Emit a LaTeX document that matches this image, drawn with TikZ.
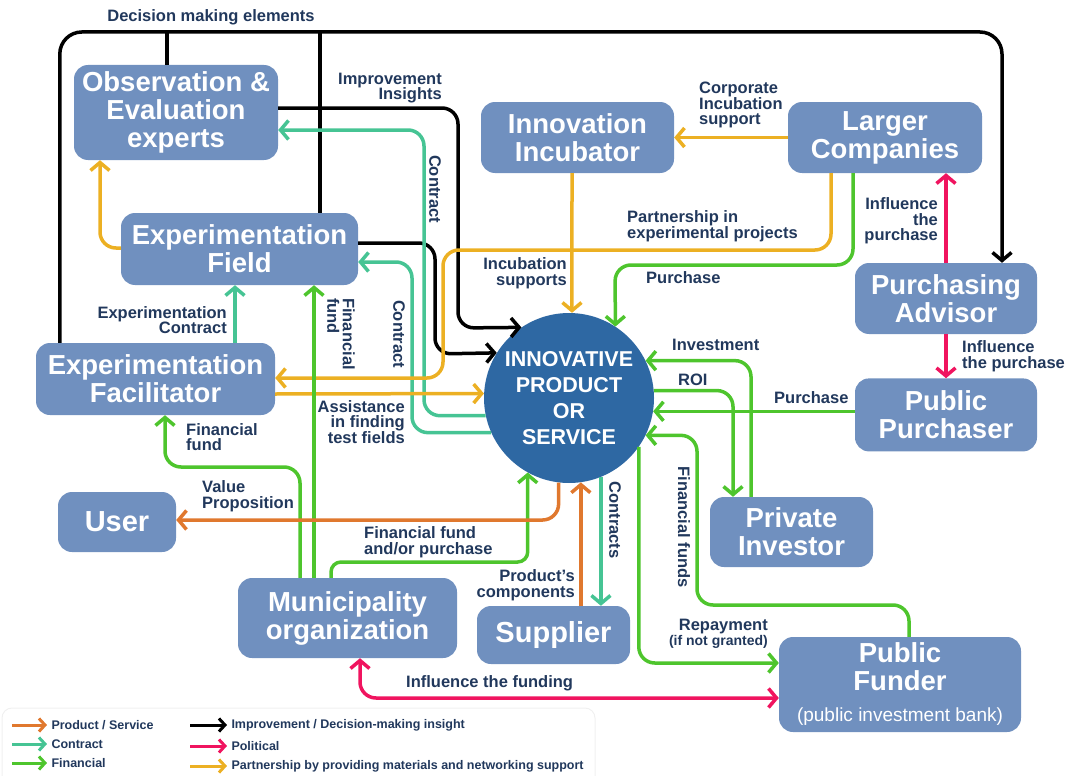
\documentclass[tikz,border=0pt]{standalone}
\usepackage{fontspec}
\setmainfont{Liberation Sans}
\usetikzlibrary{arrows.meta,positioning}

\definecolor{boxblue}{RGB}{112,144,191}
\definecolor{coreblue}{RGB}{46,104,163}
\definecolor{lblnavy}{RGB}{33,56,92}
\definecolor{prodorange}{RGB}{224,120,46}
\definecolor{contteal}{RGB}{70,196,148}
\definecolor{fingreen}{RGB}{78,197,45}
\definecolor{polpink}{RGB}{240,20,95}
\definecolor{partyellow}{RGB}{236,176,35}

\newcommand\boxfont{\fontsize{27.5pt}{28pt}\selectfont\bfseries}
\newcommand\bigboxfont{\fontsize{29pt}{30pt}\selectfont\bfseries}
\newcommand\corefont{\fontsize{21.5pt}{26pt}\selectfont\bfseries}
\newcommand\lblfont{\fontsize{16.5pt}{15.5pt}\selectfont\bfseries}
\newcommand\keyfont{\fontsize{12.5pt}{13pt}\selectfont\bfseries}

\begin{document}
\begin{tikzpicture}[x=1pt, y=-1pt, >={Straight Barb[length=8pt,width=19pt]},
  actor/.style={rectangle, rounded corners=14pt, fill=boxblue, text=white, font=\boxfont, align=center, inner sep=0pt},
  core/.style={circle, fill=coreblue, text=white, font=\corefont, align=center, inner sep=0pt, minimum size=170pt},
  lbl/.style={font=\lblfont, text=lblnavy, inner sep=0pt},
  key/.style={font=\keyfont, text=lblnavy, inner sep=0pt, anchor=west},
  link/.style={->, line width=3.5pt, rounded corners=16pt},
  keyarrow/.style={-{Straight Barb[length=6pt,width=13pt]}, line width=3pt},
  product/.style={link, draw=prodorange},
  contract/.style={link, draw=contteal},
  finance/.style={link, draw=fingreen},
  insight/.style={link, draw=black},
  politic/.style={link, draw=polpink},
  partner/.style={link, draw=partyellow}]
  \useasboundingbox (0,0) rectangle (1066,776);

  \node[actor, minimum width=204pt, minimum height=95pt] (obs) at (176,112.5) {Observation \&\\Evaluation\\experts};
  \node[actor, minimum width=237pt, minimum height=72pt] (field) at (239.5,249) {Experimentation\\Field};
  \node[actor, minimum width=239pt, minimum height=72pt] (facil) at (155.5,379) {Experimentation\\Facilitator};
  \node[actor, minimum width=118pt, minimum height=60pt, font=\bigboxfont] (user) at (117,522) {User};
  \node[actor, minimum width=219pt, minimum height=80pt] (muni) at (347.5,618) {Municipality\\organization};
  \node[actor, minimum width=153pt, minimum height=58pt, font=\bigboxfont] (supplier) at (553.5,635) {Supplier};
  \node[actor, minimum width=193pt, minimum height=71pt] (incub) at (577.5,137.5) {Innovation\\Incubator};
  \node[actor, minimum width=194pt, minimum height=71pt] (larger) at (885,137.5) {Larger\\Companies};
  \node[actor, minimum width=182pt, minimum height=71pt] (advisor) at (946,298.5) {Purchasing\\Advisor};
  \node[actor, minimum width=182pt, minimum height=73pt, below=44pt of advisor] (purchaser) {Public\\Purchaser};
  \node[actor, minimum width=163pt, minimum height=70pt] (investor) at (791.5,532) {Private\\Investor};
  \node[actor, minimum width=242pt, minimum height=95pt] (funder) at (900,684.5) {Public\\Funder\\[3pt]{\fontsize{19pt}{20pt}\selectfont\mdseries (public investment bank)}};
  \node[core] (prod) at (569,398) {INNOVATIVE\\PRODUCT\\OR\\SERVICE};

  \draw[insight, rounded corners=22pt] ([xshift=24pt]facil.north west) |- (1002,32) -- ([xshift=56pt]advisor.north);
  \draw[insight, -] (obs.north -| 167,0) -- (167,32);
  \draw[insight, -] (field.north -| 320,0) -- (320,32);
  \draw[insight] (obs.east |- 0,108) -| (458,328) -- (prod.124.6);
  \draw[insight] (field.east |- 0,243) -| (435,354) -- (prod.148.8);

  \draw[contract] (prod.192.9) -| (424,130) -- (obs.east |- 0,130);
  \draw[contract] (prod.204.3) -| (412,262) -- (field.east |- 0,262);
  \draw[contract] (facil.north -| 235,0) -- (field.south -| 235,0);
  \draw[contract] (prod.292.8) -- (prod.292.8 |- supplier.north);

  \draw[partner] (larger.south -| 831,0) |- (443,250) |- (facil.east |- 0,378);
  \draw[partner] (facil.east |- 0,394) -- (prod.177.3);
  \draw[partner] (incub.south -| 572,0) -- (prod.88);
  \draw[partner] (larger.west) -- (incub.east);
  \draw[partner] (field.west |- 0,248) -| (obs.south -| 100,0);

  \draw[finance] (larger.south -| 853,0) |- (615,265) -- (prod.57.2);
  \draw[finance] (purchaser.west |- prod.351.2) -- (prod.351.2);
  \draw[finance] (investor.north -| 751,0) |- (prod.26.6);
  \draw[finance] (prod.5.4) -| (investor.north -| 733,0);
  \draw[finance] (funder.north -| 909,0) |- (697,605) |- (prod.334.2);
  \draw[finance] (prod.325.4) |- (funder.west |- 0,663);
  \draw[finance, rounded corners=10pt] (muni.north -| 331,0) |- (prod.241.2 |- 0,562) -- (prod.241.2);
  \draw[finance] (muni.north -| 300,0) |- (165,467) -- (facil.south -| 165,0);
  \draw[finance] (muni.north -| 314,0) -- (field.south -| 314,0);

  \draw[product] (supplier.north -| prod.278.1) -- (prod.278.1);
  \draw[product] (prod.263.2) |- (user.east |- 0,520);

  \draw[politic] (advisor.north) -- (advisor.north |- larger.south);
  \draw[politic] (advisor.south) -- (purchaser.north);
  \draw[politic, <->] (muni.south -| 360,0) |- (funder.west |- 0,698);

  \node[lbl] (ldecision) at (211,17) {Decision making elements};
  \node[lbl, anchor=east, align=right] (limprove) at (442,88) {Improvement\\Insights};
  \node[lbl, rotate=-90] (lcontobs) at (435,189) {Contract};
  \node[lbl, anchor=west, align=left] (lcorporate) at (699,105) {Corporate\\Incubation\\support};
  \node[lbl, anchor=east, align=right] (lincub) at (567,273) {Incubation\\supports};
  \node[lbl, anchor=west, align=left] (lpartner) at (627,226) {Partnership in\\experimental projects};
  \node[lbl, anchor=west] (lpurchlarge) at (646,278) {Purchase};
  \node[lbl, anchor=east, align=right] (linflarge) at (938,221) {Influence\\the\\purchase};
  \node[lbl, anchor=west, align=left] (linfpub) at (962,356) {Influence\\the purchase};
  \node[lbl, anchor=west] (linvest) at (672,345) {Investment};
  \node[lbl, anchor=west] (lroi) at (678,380) {ROI};
  \node[lbl, anchor=west] (lpurchpub) at (774,398) {Purchase};
  \node[lbl, rotate=-90] (lfunds) at (684,527) {Financial funds};
  \node[lbl, anchor=east, align=right] (lrepay) at (768,634) {Repayment\\[-1pt]{\fontsize{14pt}{14pt}\selectfont (if not granted)}};
  \node[lbl, rotate=-90] (lcontsup) at (615,520) {Contracts};
  \node[lbl, anchor=east, align=right] (lcomp) at (575,585) {Product’s\\components};
  \node[lbl, anchor=west, align=left] (lfundmuni) at (364,542) {Financial fund\\and/or purchase};
  \node[lbl, anchor=west] (linffund) at (406,683) {Influence the funding};
  \node[lbl, anchor=west, align=left] (lvalue) at (202,496) {Value\\Proposition};
  \node[lbl, anchor=west, align=left] (lfundfacil) at (186,437) {Financial\\fund};
  \node[lbl, anchor=east, align=right] (lassist) at (405,422) {Assistance\\in finding\\test fields};
  \node[lbl, anchor=east, align=right] (lexpcont) at (227,320) {Experimentation\\Contract};
  \node[lbl, rotate=-90, align=left] (lfundfield) at (341,334) {Financial\\fund};
  \node[lbl, rotate=-90] (lcontfield) at (399,334) {Contract};

  \draw[black!6, line width=1pt, rounded corners=10pt] (2,776) |- (595,708) -- (595,776);
  \foreach \c/\t [count=\i] in {prodorange/{Product / Service}, contteal/Contract, fingreen/Financial}
    \draw[keyarrow, draw=\c] (12,706+19*\i) -- (47,706+19*\i) node[key, xshift=3pt] (keya\i) {\t};
  \foreach \c/\t/\y [count=\i] in {black/{Improvement / Decision-making insight}/725, polpink/Political/746, partyellow/{Partnership by providing materials and networking support}/766}
    \draw[keyarrow, draw=\c] (190,\y) -- (227,\y) node[key, xshift=3pt] (keyb\i) {\t};
\end{tikzpicture}
\end{document}
